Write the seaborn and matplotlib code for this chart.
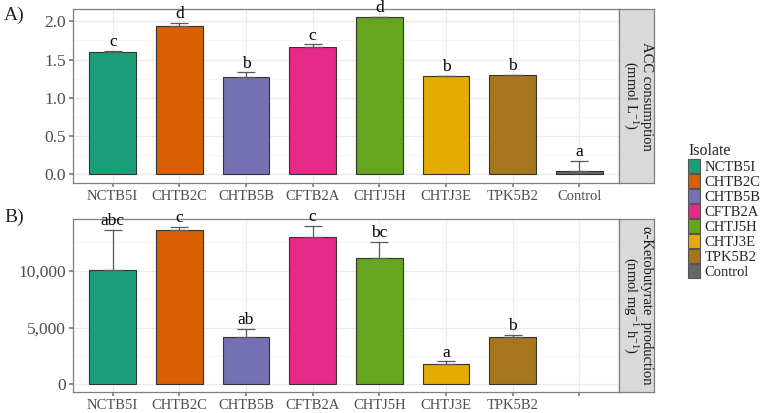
import matplotlib
matplotlib.use("Agg")
import matplotlib.pyplot as plt
import matplotlib.ticker as mticker
from matplotlib.patches import Patch
import seaborn as sns
import numpy as np
import pandas as pd

sns.set_theme(style="whitegrid")
plt.rcParams['font.family'] = ['Liberation Serif', 'DejaVu Serif']
plt.rcParams['mathtext.fontset'] = 'custom'
plt.rcParams['mathtext.rm'] = 'Liberation Serif'
plt.rcParams['mathtext.it'] = 'Liberation Serif:italic'

isolates = ["NCTB5I", "CHTB2C", "CHTB5B", "CFTB2A", "CHTJ5H", "CHTJ3E", "TPK5B2", "Control"]
colors = ["#1B9E77", "#D95F02", "#7570B3", "#E7298A", "#66A61E", "#E6AB02", "#A6761D", "#666666"]

acc_mean = [1.595, 1.943, 1.268, 1.668, 2.056, 1.285, 1.294, 0.047]
acc_upper = [1.616, 1.980, 1.333, 1.700, 2.060, 1.290, 1.300, 0.174]
acc_letters = ["c", "d", "b", "c", "d", "b", "b", "a"]

keto_mean = [10050, 13556, 4164, 12940, 11118, 1813, 4164, np.nan]
keto_upper = [13610, 13847, 4868, 13935, 12553, 2025, 4366, np.nan]
keto_letters = ["abc", "c", "ab", "c", "bc", "a", "b", ""]

palette = dict(zip(isolates, colors))
W, H = 762, 413
fig = plt.figure(figsize=(W / 100, H / 100), dpi=100)
fig.patch.set_facecolor("white")


def px_axes(x0, y0, x1, y1):
    return fig.add_axes([x0 / W, 1 - y1 / H, (x1 - x0) / W, (y1 - y0) / H])


def panel(ax, strip, means, uppers, letters, ylim, major, minor, fmt, strip_text, tag, show_control):
    df = pd.DataFrame({"Isolate": isolates, "value": means})
    sns.barplot(df, x="Isolate", y="value", hue="Isolate", palette=palette,
                order=isolates, hue_order=isolates, legend=False, width=0.7,
                saturation=1, edgecolor="#333333", linewidth=0.8, ax=ax, zorder=2)
    pos = np.arange(len(isolates))
    m = np.array(means, dtype=float)
    u = np.array(uppers, dtype=float)
    ok = ~np.isnan(m)
    ax.errorbar(pos[ok], m[ok], yerr=[np.zeros(ok.sum()), (u - m)[ok]], fmt="none",
                ecolor="#5a5a5a", elinewidth=0.9, capsize=6.5, capthick=0.9, zorder=3)
    span = ylim[1] - ylim[0]
    for p, top, lab in zip(pos, u, letters):
        if lab and not np.isnan(top):
            ax.text(p, top + span * 0.003, lab, ha="center", va="bottom", fontsize=12.5,
                    color="black", zorder=4)
    ax.set_xlim(-0.6, 7.6)
    ax.set_ylim(*ylim)
    ax.yaxis.set_major_locator(mticker.MultipleLocator(major))
    ax.yaxis.set_minor_locator(mticker.MultipleLocator(minor))
    ax.yaxis.set_major_formatter(mticker.FuncFormatter(fmt))
    ax.grid(True, which="major", color="#EBEBEB", linewidth=0.9, zorder=0)
    ax.grid(True, which="minor", axis="y", color="#F5F5F5", linewidth=0.6, zorder=0)
    ax.set_axisbelow(True)
    ax.set_facecolor("white")
    for s in ax.spines.values():
        s.set_color("#7F7F7F")
        s.set_linewidth(0.9)
    ax.tick_params(axis="both", which="major", length=3, color="#7F7F7F",
                   labelcolor="#4D4D4D", bottom=True, left=True)
    ax.tick_params(axis="y", labelsize=12.5, pad=2)
    ax.tick_params(axis="x", labelsize=10.5, pad=2)
    ax.tick_params(axis="both", which="minor", length=0)
    labels = isolates if show_control else isolates[:-1] + [""]
    ax.set_xticks(pos)
    ax.set_xticklabels(labels)
    ax.set_xlabel("")
    ax.set_ylabel("")

    strip.set_facecolor("#D9D9D9")
    strip.set_xticks([])
    strip.set_yticks([])
    for s in strip.spines.values():
        s.set_color("#7F7F7F")
        s.set_linewidth(0.9)
    strip.text(0.5, 0.5, strip_text, rotation=-90, ha="center", va="center",
               fontsize=10.5, color="#1A1A1A", transform=strip.transAxes, linespacing=1.1)
    fig.text(4 / W, 1 - (tag[1]) / H, tag[0], fontsize=14, ha="left", va="center")


ax1 = px_axes(72.7, 9.3, 619.3, 182.7)
st1 = px_axes(619.3, 9.3, 654.3, 182.7)
ax2 = px_axes(72.7, 219, 619.3, 392.3)
st2 = px_axes(619.3, 219, 654.3, 392.3)

panel(ax1, st1, acc_mean, acc_upper, acc_letters, (-0.11, 2.157), 0.5, 0.25,
      lambda v, p: f"{v:.1f}", "ACC consumption\n(mmol L$^{-1}$)", ("A)", 15), True)
panel(ax2, st2, keto_mean, keto_upper, keto_letters, (-704, 14551), 5000, 2500,
      lambda v, p: f"{v:,.0f}", "α-Ketobutyrate  production\n(nmol mg$^{-1}$ h$^{-1}$)",
      ("B)", 217), False)

handles = [Patch(facecolor=c, edgecolor="#555555", linewidth=0.8) for c in colors]
fig.legend(handles, isolates, title="Isolate", loc="upper left",
           bbox_to_anchor=(678 / W, 1 - 133 / H), frameon=False, fontsize=10.5,
           title_fontsize=11.5, handlelength=0.82, handleheight=1.1, handletextpad=0.3,
           labelspacing=0.0, alignment="left", borderpad=0.2)

fig.savefig("out.png", dpi=100, facecolor="white")
